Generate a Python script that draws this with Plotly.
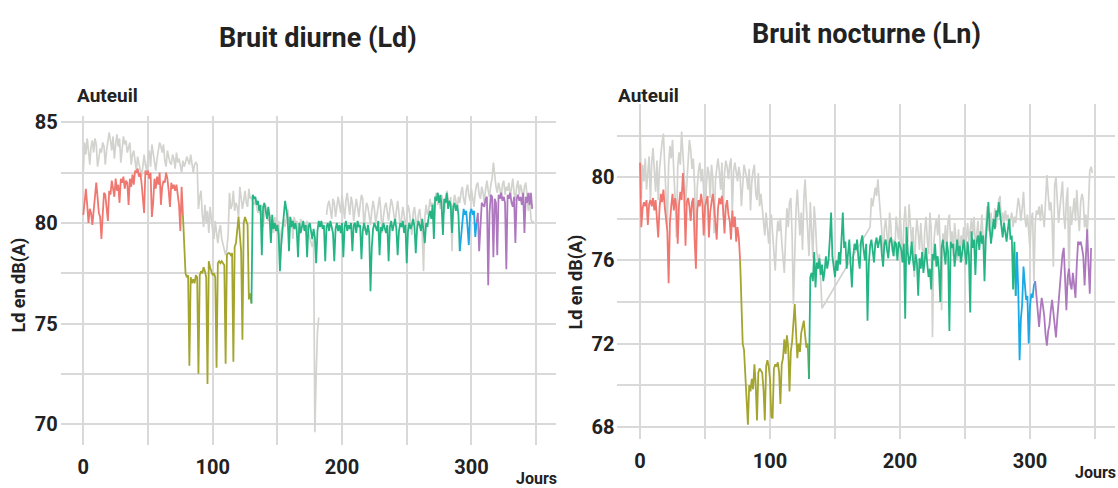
import plotly.graph_objects as go

# ---------------- DATA ----------------
# Left panel: Bruit diurne (Ld), Auteuil
ld_ref = [  # grey reference line, days 0..348
    82.6, 84.0, 83.4, 84.2, 83.6, 82.9, 83.8, 84.1, 83.5, 84.2,
    83.9, 82.8, 83.2, 83.7, 83.5, 84.0, 83.8, 82.9, 83.6, 84.0,
    84.5, 84.1, 83.6, 84.3, 83.2, 83.9, 84.4, 83.8, 84.2, 83.0,
    83.7, 84.3, 83.9, 84.1, 83.5, 83.8, 84.0, 82.9, 83.4, 83.6,
    83.2, 82.6, 83.3, 83.0, 82.7, 82.3, 82.8, 83.4, 82.9, 82.6,
    83.2, 83.6, 82.8, 83.9, 83.5, 83.0, 82.6, 83.2, 83.6, 84.0,
    83.8, 83.5, 83.9, 83.1, 82.8, 83.6, 83.3, 83.0, 82.9, 83.4,
    83.2, 82.7, 83.5, 83.0, 83.2, 82.9, 82.5, 83.1, 82.8, 83.0,
    83.3, 83.1, 82.9, 83.4, 82.8, 82.5, 82.9, 83.0, 82.9, 80.7,
    81.3, 81.6, 80.4, 79.8, 80.9, 80.0, 80.6, 79.5, 80.8, 80.1,
    79.6, 79.2, 80.1, 79.5, 79.0, 79.6, 79.9, 79.2, 78.9, 78.6,
    78.4, 78.7, 79.5, 81.5, 80.7, 80.9, 81.6, 80.6, 81.0, 80.8,
    80.3, 81.8, 81.2, 80.7, 81.1, 81.6, 81.0, 80.8, 81.7, 81.2,
    81.3, 81.0, 80.9, 81.2, 80.8, 80.5, 80.7, 80.4, 80.6, 79.8,
    80.5, 80.9, 80.3, 80.1, 80.4, 79.9, 80.2, 79.5, 80.3, 80.0,
    79.8, 80.1, 78.6, 79.6, 80.0, 80.2, 79.8, 80.4, 80.7, 80.1,
    79.9, 80.2, 79.2, 80.3, 80.0, 80.1, 79.7, 79.4, 80.2, 79.9,
    80.0, 79.6, 79.8, 80.1, 79.5, 79.3, 79.0, 78.8, 79.2, 69.6,
    72.4, 74.6, 75.3, None, None, None, None, None, 80.4, 80.9,
    81.1, 80.7, 80.2, 81.2, 81.0, 80.3, 80.8, 81.3, 80.9, 80.5,
    81.4, 80.8, 80.2, 81.1, 81.5, 80.9, 80.4, 81.3, 81.0, 80.1,
    80.7, 81.2, 80.8, 80.3, 80.9, 81.4, 81.2, 79.6, 80.5, 81.0,
    80.8, 80.2, 79.9, 80.6, 81.1, 80.7, 80.0, 80.4, 80.9, 81.3,
    80.6, 79.5, 80.3, 80.8, 81.0, 80.4, 80.1, 80.7, 81.2, 80.9,
    80.3, 80.0, 80.6, 81.1, 80.5, 79.8, 80.2, 80.8, 80.4, 79.7,
    80.3, 80.9, 80.6, 80.0, 79.4, 80.5, 80.8, 80.2, 79.6, 80.4,
    80.7, 80.1, 79.5, 77.6, 80.3, 80.9, 80.4, 80.6, 81.2, 80.8,
    81.0, 80.6, 81.3, 81.5, 80.9, 81.2, 80.7, 81.4, 81.0, 80.5,
    81.1, 81.6, 81.2, 80.8, 81.3, 78.6, 80.9, 81.4, 81.1, 80.6,
    81.3, 81.0, 81.5, 81.8, 81.2, 80.9, 81.6, 81.9, 81.4, 81.1,
    81.7, 81.3, 80.8, 81.5, 81.9, 82.0, 81.4, 81.2, 81.8, 81.5,
    81.0, 81.7, 82.1, 81.6, 81.3, 81.9, 82.2, 83.0, 82.3, 81.8,
    81.5, 82.0, 81.7, 81.2, 81.9, 82.1, 81.4, 81.8, 81.6, 82.0,
    81.3, 81.7, 82.2, 81.5, 81.1, 81.8, 82.1, 81.4, 81.9, 81.6,
    81.2, 81.8, 82.0, 81.4, 80.6, 81.5, 80.2, 80.0, 80.1,
]

ld = [  # coloured line, days 0..347
    80.4, 81.0, 81.7, 80.9, 80.0, 80.7, 80.5, 79.9, 80.6, 81.1,
    82.0, 81.3, 80.5, 80.3, 79.2, 80.4, 81.5, 81.4, 80.8, 80.1,
    81.6, 81.4, 82.1, 81.7, 81.3, 82.2, 81.6, 81.9, 81.0, 82.2,
    82.0, 82.3, 81.7, 82.1, 82.0, 80.9, 82.2, 81.8, 82.4, 81.9,
    82.6, 82.5, 82.7, 82.3, 82.5, 82.0, 81.0, 80.5, 82.6, 82.4,
    82.6, 82.2, 82.5, 80.3, 81.0, 82.2, 81.7, 82.3, 81.9, 82.5,
    80.9, 81.8, 82.1, 82.0, 82.5, 82.2, 81.6, 80.8, 82.0, 81.7,
    81.9, 81.6, 81.9, 81.2, 80.9, 79.6, 81.8, 80.4, 78.6, 77.5,
    77.3, 77.4, 72.9, 77.3, 77.0, 77.2, 77.0, 77.4, 77.3, 72.5,
    77.4, 77.6, 77.5, 77.8, 77.6, 77.3, 72.0, 78.1, 77.8, 77.6,
    77.4, 77.5, 77.3, 72.8, 78.0, 78.1, 78.0, 78.1, 78.0, 77.9,
    73.0, 78.4, 78.5, 78.5, 78.4, 78.5, 73.1, 78.8, 79.0, 79.7,
    80.3, 79.4, 78.6, 74.2, 80.0, 80.3, 80.1, 79.9, 76.2, 76.5,
    76.0, 81.4, 81.2, 81.3, 80.9, 81.1, 80.6, 80.9, 78.4, 80.8,
    81.0, 80.5, 80.2, 80.8, 80.3, 79.0, 80.4, 79.7, 80.0, 79.6,
    79.9, 79.4, 77.6, 78.9, 79.5, 80.4, 81.1, 80.6, 80.2, 78.6,
    80.3, 79.8, 80.1, 79.7, 80.0, 79.6, 78.3, 80.0, 79.5, 79.8,
    80.1, 79.6, 79.9, 78.3, 79.8, 80.0, 79.5, 79.2, 79.7, 79.3,
    78.0, 79.6, 80.1, 79.8, 80.1, 79.7, 79.9, 78.1, 79.8, 80.0,
    79.6, 80.1, 79.8, 79.5, 78.1, 79.7, 80.0, 79.6, 79.9, 79.5,
    80.0, 78.3, 79.8, 80.1, 79.6, 79.9, 79.7, 80.0, 78.6, 79.9,
    80.0, 79.5, 80.1, 79.8, 79.9, 78.2, 79.6, 80.0, 79.7, 79.4,
    79.9, 79.5, 76.6, 78.8, 79.7, 80.0, 79.8, 79.6, 80.1, 78.4,
    79.8, 79.6, 80.0, 79.7, 79.5, 79.9, 78.1, 79.8, 80.1, 79.6,
    79.9, 80.2, 79.7, 78.4, 79.6, 80.0, 79.8, 80.1, 79.5, 79.9,
    78.0, 79.6, 80.0, 79.7, 79.9, 80.2, 79.8, 78.5, 79.7, 80.1,
    79.9, 79.6, 80.2, 79.4, 79.0, 80.0, 79.8, 80.3, 80.6, 80.2,
    80.9, 79.2, 81.3, 81.1, 81.5, 81.0, 81.4, 80.8, 79.4, 81.2,
    81.0, 81.5, 80.7, 81.1, 80.9, 79.5, 80.8, 81.0, 80.6, 80.9,
    80.4, 78.6, 79.4, 80.1, 80.7, 80.4, 80.6, 79.8, 78.9, 80.5,
    80.7, 80.4, 80.6, 79.3, 80.0, 80.5, 78.6, 80.2, 81.0, 80.9,
    80.8, 81.2, 81.3, 76.9, 80.5, 81.4, 81.3, 78.3, 81.2, 81.0,
    78.4, 81.4, 81.2, 81.5, 81.1, 81.3, 81.0, 77.7, 81.4, 81.2,
    81.5, 81.0, 80.8, 81.3, 79.0, 81.2, 81.4, 81.1, 81.3, 80.9,
    81.5, 79.5, 81.3, 81.0, 81.5, 80.9, 81.5, 80.7,
]
ld_breaks = [0, 77, 130, 291, 304, 347]   # period limits (days)

# Right panel: Bruit nocturne (Ln), Auteuil
ln_ref = [  # grey reference line, days 0..348 (None = missing, joined by a line)
    82.8, 79.0, 80.6, 79.8, 80.9, 79.4, 80.2, 81.0, 78.8, 80.7,
    81.4, 80.5, 79.3, 80.8, 78.9, 80.4, 81.2, 81.7, 82.1, 80.3,
    79.4, 77.6, 80.6, 81.5, 80.9, 81.8, 80.2, 79.0, 77.1, 80.5,
    81.2, 80.6, 82.2, 81.3, 80.1, 78.6, 79.8, 80.7, 81.8, 81.3,
    80.4, 80.9, 79.6, 76.9, 79.5, 80.3, 80.7, 79.8, 80.4, 79.3,
    77.4, 79.6, 80.5, 80.2, 79.0, 80.6, 80.0, 77.3, 79.8, 80.4,
    80.9, 80.3, 79.4, 80.7, 78.1, 80.2, 80.8, 80.5, 79.9, 80.6,
    80.9, 78.3, 80.3, 80.7, 80.2, 79.8, 80.5, 80.1, 78.6, 79.9,
    80.6, 80.3, 80.0, 79.4, 80.4, 78.4, 79.8, 80.3, 80.6, 79.2,
    78.9, 80.2, 78.6, 79.2, 78.4, 77.9, 77.2, 78.3, 77.6, 76.8,
    77.8, 78.2, 77.3, 76.2, 75.5, 77.0, 77.9, 77.4, 78.0, 76.9,
    76.0, 75.4, 77.1, 78.5, 77.6, 78.8, 79.0, 77.2, 73.9, 76.8,
    78.4, 79.4, 78.0, 77.2, 78.3, 76.5, 78.9, 79.9, 78.6, 77.3,
    76.2, 78.8, 77.4, 76.1, 78.6, 77.8, 76.4, 75.9, 76.3, 74.8,
    73.7, None, None, None, None, None, None, None, None, None,
    None, None, None, None, None, None, None, None, None, None,
    None, None, None, None, None, None, None, None, None, None,
    None, None, None, None, None, None, None, 77.6, 79.0, 78.6,
    79.2, 79.5, 79.1, 79.9, 79.0, 78.2, 77.4, 75.8, 77.5, 78.0,
    77.2, 76.5, 78.3, 77.6, 76.4, 77.0, 76.2, 78.1, 77.5, 77.0,
    78.4, 77.2, 75.9, 77.8, 78.6, 77.5, 76.9, 78.7, 77.4, 76.8,
    77.6, 75.2, 77.1, 78.0, 77.3, 76.5, 77.8, 76.9, 75.6, 77.4,
    78.1, 77.0, 76.3, 78.3, 77.5, 72.3, 76.8, 77.6, 78.0, 77.2,
    78.2, 76.6, 73.6, 77.3, 76.8, 77.7, 76.5, 77.9, 78.2, 76.9,
    77.4, 76.2, 77.8, 77.1, 76.0, 77.5, 75.9, 77.2, 76.7, 77.6,
    75.4, 77.0, 77.8, 76.9, 77.4, 78.0, 77.2, 78.1, 76.6, 77.5,
    77.9, 76.8, 77.3, 78.2, 77.0, 76.5, 77.6, 78.6, 77.4, 77.9,
    78.3, 77.1, 77.8, 78.5, 77.6, 78.2, 78.9, 79.1, 77.7, 78.3,
    77.8, 78.4, 77.9, 78.2, 77.5, 78.0, 78.3, 77.6, 78.1, 77.8,
    78.4, 79.0, 78.6, 77.9, 78.5, 79.3, 78.1, 77.6, 78.2, 77.4,
    76.6, 78.0, 78.3, 75.0, 77.8, 78.4, 78.2, 78.6, 77.9, 78.7,
    78.1, 77.6, 78.9, 80.1, 79.2, 78.4, 78.8, 77.9, 75.7, 79.6,
    80.0, 78.7, 77.8, 78.5, 79.4, 79.8, 78.2, 77.5, 78.9, 79.5,
    74.8, 78.6, 77.7, 78.4, 79.0, 77.9, 79.4, 78.2, 77.4, 78.8,
    79.2, 78.9, 77.6, 78.2, 77.1, 78.6, 80.3, 80.5, 80.2,
]

ln = [  # coloured line, days 0..347
    80.7, 77.6, 78.5, 78.8, 78.6, 78.9, 77.7, 78.7, 78.9, 78.6,
    79.0, 78.4, 78.9, 78.2, 77.1, 78.5, 79.2, 78.8, 79.4, 78.6,
    78.0, 77.4, 74.9, 77.8, 78.6, 79.2, 78.4, 79.0, 78.5, 76.8,
    78.7, 79.3, 78.9, 80.2, 79.1, 76.7, 78.8, 79.0, 78.6, 77.9,
    78.8, 79.0, 77.0, 75.6, 78.4, 78.9, 78.6, 79.2, 78.7, 77.2,
    78.6, 78.9, 79.1, 77.1, 78.3, 78.8, 79.2, 78.6, 77.8, 77.0,
    78.5, 79.0, 78.7, 79.1, 78.4, 77.3, 78.6, 78.9, 78.2, 77.9,
    77.0, 78.4, 77.6, 78.1, 76.9, 77.6, 77.1, 76.0, 74.0, 72.0,
    71.7, 70.5, 69.5, 68.1, 70.0, 69.7, 70.3, 69.8, 71.0, 70.0,
    68.3, 70.6, 70.8, 70.7, 70.6, 69.8, 68.3, 70.9, 71.2, 70.9,
    70.3, 68.5, 68.4, 70.8, 71.0, 70.9, 71.1, 70.6, 69.1, 71.0,
    71.3, 72.2, 71.5, 72.4, 71.8, 69.7, 71.6, 72.1, 73.0, 73.9,
    72.6, 71.3, 72.0, 71.6, 72.5, 72.9, 73.1, 72.4, 71.8, 72.0,
    70.3, 75.2, 75.4, 75.0, 76.4, 74.7, 75.9, 75.6, 76.1, 75.3,
    75.8, 75.0, 75.5, 76.2, 75.6, 76.0, 77.0, 78.3, 76.2, 75.6,
    75.2, 76.0, 75.5, 76.4, 75.8, 77.0, 78.3, 76.6, 76.9, 75.6,
    76.5, 77.0, 75.8, 74.7, 76.2, 76.8, 76.5, 77.0, 76.1, 75.6,
    76.9, 77.2, 76.5, 76.0, 76.8, 73.1, 75.8, 76.7, 77.0, 76.4,
    75.9, 76.8, 77.1, 76.6, 76.9, 77.2, 76.3, 75.7, 76.8, 77.0,
    76.5, 76.1, 76.9, 77.1, 76.7, 76.2, 76.9, 76.8, 76.0, 76.9,
    76.7, 76.5, 75.9, 76.8, 73.2, 77.6, 76.4, 75.8, 76.2, 76.9,
    76.0, 75.5, 76.3, 75.9, 74.3, 76.1, 75.6, 76.4, 75.4, 75.9,
    76.6, 75.8, 75.2, 75.6, 74.6, 76.3, 76.0, 76.8, 75.7, 76.2,
    75.5, 74.0, 76.6, 77.0, 76.2, 75.8, 76.9, 76.4, 72.6, 76.9,
    76.6, 76.8, 75.7, 76.4, 77.0, 76.2, 76.7, 75.9, 76.5, 77.0,
    76.4, 75.8, 76.9, 76.3, 73.5, 77.4, 76.6, 77.0, 75.3, 76.9,
    77.2, 76.5, 77.4, 76.8, 77.2, 75.0, 77.0, 77.8, 78.8, 77.6,
    76.8, 77.4, 78.0, 77.5, 78.4, 78.1, 78.8, 78.2, 77.6, 77.1,
    77.8, 77.3, 76.9, 77.5, 78.0, 77.0, 77.2, 74.6, 76.9, 74.3,
    76.4, 74.5, 71.2, 73.2, 73.9, 75.7, 74.6, 74.1, 74.3, 72.0,
    73.8, 74.4, 74.2, 74.8, 75.0, 74.3, 73.5, 72.8, 73.6, 74.2,
    73.8, 73.3, 72.4, 71.9, 72.6, 72.9, 73.6, 74.1, 73.5, 72.9,
    72.3, 73.2, 74.1, 74.8, 75.6, 76.3, 76.6, 74.5, 73.6, 75.2,
    75.6, 74.9, 74.6, 75.4, 74.7, 74.2, 75.8, 76.9, 76.8, 76.9,
    76.6, 76.2, 74.8, 76.0, 77.5, 75.8, 74.4, 76.6,
]
ln_breaks = [0, 77, 130, 289, 304, 347]

period_colors = ["#F0776F", "#A3A52E", "#25B585", "#1AA9E6", "#AE78BF"]
ref_color = "#D2D2CE"

# ---------------- FIGURE ----------------
W, H = 1118, 488
fig = go.Figure()


def add_panel(ref, vals, breaks, xa, ya, connect):
    days_ref = list(range(len(ref)))
    fig.add_trace(go.Scatter(x=days_ref, y=ref, mode="lines", xaxis=xa, yaxis=ya,
                             line=dict(color=ref_color, width=1.7),
                             connectgaps=connect, hoverinfo="skip", showlegend=False))
    for i in range(len(breaks) - 1):
        a, b = breaks[i], breaks[i + 1]
        fig.add_trace(go.Scatter(x=list(range(a, b + 1)), y=vals[a:b + 1], mode="lines",
                                 xaxis=xa, yaxis=ya,
                                 line=dict(color=period_colors[i], width=1.8),
                                 hoverinfo="skip", showlegend=False))


add_panel(ld_ref, ld, ld_breaks, "x", "y", False)
add_panel(ln_ref, ln, ln_breaks, "x2", "y2", True)

grid = "#D9D9D9"
tickfont = dict(family="Roboto", size=20, color="#222222", weight=700)

def xaxis(domain, anchor):
    return dict(domain=domain, anchor=anchor, range=[-17.4, 365.4],
                tickmode="array", tickvals=[0, 100, 200, 300],
                ticktext=["0", "100", "200", "300"],
                showgrid=True, gridcolor=grid, gridwidth=1.6,
                minor=dict(tickvals=[50, 150, 250, 350], showgrid=True,
                           gridcolor=grid, gridwidth=1.6),
                zeroline=False, showline=False, ticks="", tickfont=tickfont,
                ticklabelstandoff=8)

def yaxis(domain, anchor, rng, major, minor):
    return dict(domain=domain, anchor=anchor, range=rng,
                tickmode="array", tickvals=major, ticktext=[str(v) for v in major],
                showgrid=True, gridcolor=grid, gridwidth=1.6,
                minor=dict(tickvals=minor, showgrid=True, gridcolor=grid, gridwidth=1.6),
                zeroline=False, showline=False, ticks="", tickfont=tickfont,
                ticklabelstandoff=2)

fig.update_layout(
    width=W, height=H, margin=dict(l=0, r=0, t=0, b=0),
    paper_bgcolor="white", plot_bgcolor="white",
    font=dict(family="Roboto", color="#222222"),
    xaxis=xaxis([60.8 / W, 556 / W], "y"),
    yaxis=yaxis([1 - 444.7 / H, 1 - 111.7 / H], "x", [68.95, 85.3],
                [70, 75, 80, 85], [72.5, 77.5, 82.5]),
    xaxis2=xaxis([617.4 / W, 1115 / W], "y2"),
    yaxis2=yaxis([1 - 438 / H, 1 - 99 / H], "x2", [67.43, 83.53],
                 [68, 72, 76, 80], [70, 74, 78, 82]),
)

def ann(text, xpx, ypx, size, xanchor="center", angle=0):
    fig.add_annotation(text=text, x=xpx / W, y=1 - ypx / H, xref="paper", yref="paper",
                       xanchor=xanchor, yanchor="middle", showarrow=False, textangle=angle,
                       font=dict(family="Roboto", size=size, color="#222222", weight=700))

ann("Bruit diurne (Ld)", 318, 32, 27)
ann("Bruit nocturne (Ln)", 866, 28, 27)
ann("Auteuil", 75, 91, 19, "left")
ann("Auteuil", 616, 91, 19, "left")
ann("Ld en dB(A)", 19, 283, 18, angle=-90)
ann("Ld en dB(A)", 576, 280, 18, angle=-90)
ann("Jours", 536, 478, 16)
ann("Jours", 1095, 472, 16)

fig.write_html("out.html", config={"displayModeBar": False},
               post_script="document.body.style.margin='0px';document.body.style.overflow='hidden';")
